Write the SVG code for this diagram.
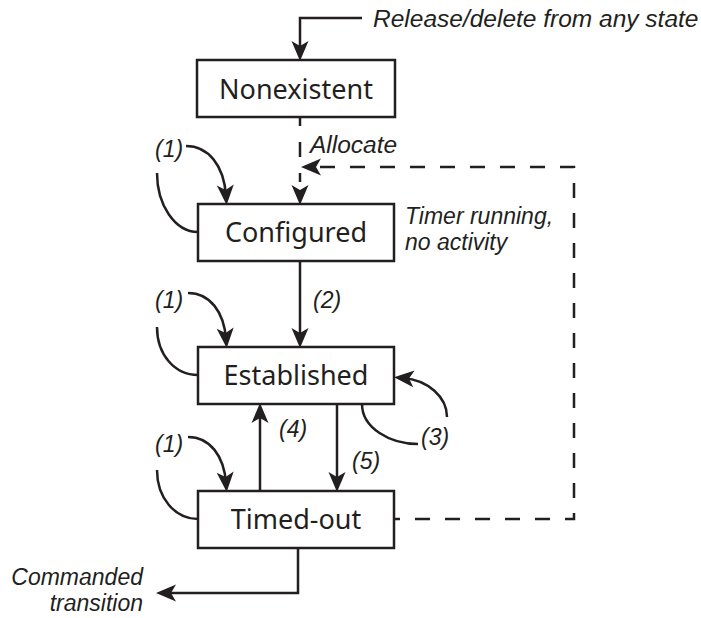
<svg xmlns="http://www.w3.org/2000/svg" width="701" height="618" viewBox="0 0 701 618">
<style>
.box{fill:#fff;stroke:#231f20;stroke-width:2.5}
.lbl{font-family:"Noto Sans","Liberation Sans",sans-serif;font-size:27px;fill:#231f20;text-anchor:middle}
.it{font-family:"Liberation Sans",Arial,sans-serif;font-style:italic;font-size:23px;fill:#231f20}
.big{font-size:24.5px}
.ln{fill:none;stroke:#231f20;stroke-width:2.5}
.arr{marker-end:url(#ah)}
.dash{stroke-dasharray:15 15}
</style>
<defs>
<marker id="ah" viewBox="-20 -20 40 40" refX="0" refY="0" markerWidth="40" markerHeight="40" markerUnits="userSpaceOnUse" orient="auto" overflow="visible">
<path d="M9,0 L-11,-8.5 L-6,0 L-11,8.5 Z" fill="#231f20"/>
</marker>
</defs>
<g id="connectors">
<path class="ln arr" d="M362,18 L300,18 L300,52"/>
<path class="ln arr" d="M300,117 L300,196" style="stroke-dasharray:9 16 15 16"/>
<path class="ln arr dash" d="M394,519 L574,519 L574,167 L310,167" style="stroke-dashoffset:9"/>
<path class="ln arr" d="M300,261 L300,339"/>
<path class="ln arr" d="M260,491 L260,412"/>
<path class="ln arr" d="M337,404 L337,483"/>
<path class="ln arr" d="M298,548 L298,593 L165,593"/>
<path class="ln arr" d="M186,146 C208,146 224,165 226,196"/>
<path class="ln" d="M157,173 C157,205 175,232 198,232"/>
<path class="ln arr" d="M188,293 C210,293 224,312 226,339"/>
<path class="ln" d="M157,327 C157,355 175,375 198,375"/>
<path class="ln arr" d="M188,437 C210,437 224,456 226,483"/>
<path class="ln" d="M157,470 C157,498 175,519 198,519"/>
<path class="ln" d="M362,404 C362,428 390,444 418,444"/>
<path class="ln arr" d="M447,417 C447,397 428,380 403,378"/>
</g>
<g id="nonexistent"><rect class="box" x="197" y="60" width="198" height="57"/><text class="lbl" x="296" y="99">Nonexistent</text></g>
<g id="configured"><rect class="box" x="198" y="204" width="196" height="57"/><text class="lbl" x="296" y="242">Configured</text></g>
<g id="established"><rect class="box" x="198" y="347" width="196" height="57"/><text class="lbl" x="296" y="385">Established</text></g>
<g id="timed-out"><rect class="box" x="198" y="491" width="196" height="57"/><text class="lbl" x="296" y="529">Timed-out</text></g>
<g id="labels">
<text class="it big" x="373" y="27">Release/delete from any state</text>
<text class="it big" x="310" y="153">Allocate</text>
<text class="it"><tspan x="405" y="224">Timer running,</tspan><tspan x="405" y="250">no activity</tspan></text>
<text class="it" x="155" y="157">(1)</text>
<text class="it" x="155" y="308">(1)</text>
<text class="it" x="155" y="452">(1)</text>
<text class="it" x="313" y="308">(2)</text>
<text class="it" x="421" y="445">(3)</text>
<text class="it" x="279" y="437">(4)</text>
<text class="it" x="352" y="469">(5)</text>
<text class="it" text-anchor="end"><tspan x="143" y="585">Commanded</tspan><tspan x="143" y="611">transition</tspan></text>
</g>
</svg>
